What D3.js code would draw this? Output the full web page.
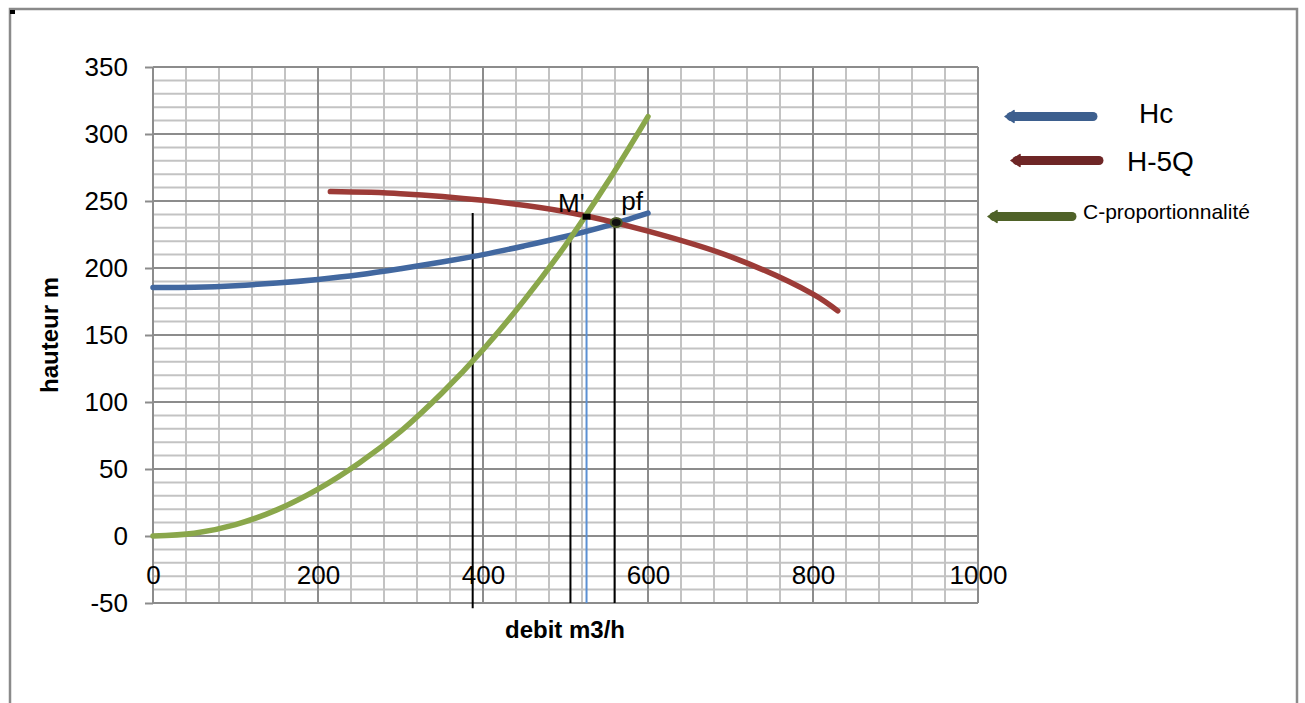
<!DOCTYPE html>
<html>
<head>
<meta charset="utf-8">
<script src="https://cdn.jsdelivr.net/npm/d3@7"></script>
<style>
  html, body { margin: 0; padding: 0; background: #fff; }
  svg { display: block; font-family: "Liberation Sans", Arial, sans-serif; }
</style>
</head>
<body>
<svg id="chart" width="1305" height="703"></svg>
<script>
// ---- data ----
const hcQ = [0, 50, 100, 150, 200, 250, 300, 350, 400, 450, 500, 550, 600];
const hcH = [185.5, 185.7, 186.8, 188.8, 191.5, 195, 199.5, 204.5, 210, 216.5, 223.5, 231.5, 241];

const h5qQ = [215, 300, 400, 500, 600, 700, 800, 830];
const h5qH = [257, 255.5, 250.5, 242, 227.5, 208.5, 180.5, 168];

const cpQ = [0, 50, 100, 150, 200, 250, 300, 350, 400, 450, 500, 550, 600];
const cpH = [0, 2, 8.5, 19.5, 35, 54.5, 78, 106.5, 139, 176, 217, 263, 313];

const xTicks = [0, 200, 400, 600, 800, 1000];
const yTicks = [-50, 0, 50, 100, 150, 200, 250, 300, 350];

const guideQ = [387.5, 506, 525.5, 559.5];
const guideTop = [241, 224.5, 238, 233.5];
const guideBottom = [-54, -50, -50, -50];
const guideKind = ["black", "black", "blue", "black"];

const pointLabels = ["M'", "pf"];
const pointQ = [525.5, 561.5];
const pointH = [238.3, 234];
const labelQ = [491, 567.5];
const labelH = [241.8, 243.3];

const legendLabels = ["Hc", "H-5Q", "C-proportionnalité"];
const xTitle = "debit m3/h";
const yTitle = "hauteur m";

// ---- drawing ----
const svg = d3.select("#chart");
const x = d3.scaleLinear().domain([0, 1000]).range([153, 978]);
const y = d3.scaleLinear().domain([-50, 350]).range([603, 67]);
const fmt = d => String(d);

// outer frame
svg.append("path")
  .attr("d", "M10,706 L10,9 L1297,9 L1297,706")
  .attr("fill", "none").attr("stroke", "#8a8a8a").attr("stroke-width", 2.5);
svg.append("rect").attr("x", 10).attr("y", 10).attr("width", 5).attr("height", 4).attr("fill", "#000");

// grid
const g = svg.append("g");
const minorX = d3.range(0, 1001, 40);
const minorY = d3.range(-50, 351, 10);
g.selectAll(".mx").data(minorX).join("line")
  .attr("x1", d => x(d)).attr("x2", d => x(d)).attr("y1", y(350)).attr("y2", y(-50))
  .attr("stroke", "#c3c3c3").attr("stroke-width", 2);
g.selectAll(".my").data(minorY).join("line")
  .attr("x1", x(0)).attr("x2", x(1000)).attr("y1", d => y(d)).attr("y2", d => y(d))
  .attr("stroke", "#c3c3c3").attr("stroke-width", 2);
g.selectAll(".Mx").data(xTicks).join("line")
  .attr("x1", d => x(d)).attr("x2", d => x(d)).attr("y1", y(350)).attr("y2", y(-50))
  .attr("stroke", "#8c8c8c").attr("stroke-width", 2);
g.selectAll(".My").data(yTicks).join("line")
  .attr("x1", x(0)).attr("x2", x(1000)).attr("y1", d => y(d)).attr("y2", d => y(d))
  .attr("stroke", "#8c8c8c").attr("stroke-width", 2);

// y axis
const yAxis = d3.axisLeft(y).tickValues(yTicks).tickFormat(fmt).tickSize(8).tickPadding(17);
const ya = svg.append("g").attr("transform", `translate(${x(0)},0)`).call(yAxis);
ya.select(".domain").remove();
ya.selectAll(".tick line").attr("stroke", "#8c8c8c").attr("stroke-width", 2);
ya.selectAll(".tick text").attr("font-size", 26).attr("fill", "#000")
  .attr("font-family", "Liberation Sans, Arial, sans-serif");

// x axis labels
const xAxis = d3.axisBottom(x).tickValues(xTicks).tickFormat(fmt).tickSize(0).tickPadding(30);
const xa = svg.append("g").attr("transform", `translate(0,${y(0)})`).call(xAxis);
xa.select(".domain").remove();
xa.selectAll(".tick text").attr("font-size", 26).attr("fill", "#000")
  .attr("font-family", "Liberation Sans, Arial, sans-serif");

// axis titles
svg.append("text").attr("x", 565).attr("y", 638).attr("text-anchor", "middle")
  .attr("font-size", 24).attr("font-weight", "bold").text(xTitle);
svg.append("text").attr("transform", "translate(58,335) rotate(-90)").attr("text-anchor", "middle")
  .attr("font-size", 24).attr("font-weight", "bold").text(yTitle);

// series
const line = d3.line().x(d => x(d[0])).y(d => y(d[1])).curve(d3.curveCatmullRom.alpha(0.5));
const series = [
  { q: hcQ, h: hcH, color: "#4268a0" },
  { q: h5qQ, h: h5qH, color: "#9c3b37" },
  { q: cpQ, h: cpH, color: "#8aa74b" }
];

// guide lines (drawn under curves)
guideQ.forEach((q, i) => {
  svg.append("line")
    .attr("x1", x(q)).attr("x2", x(q)).attr("y1", y(guideTop[i])).attr("y2", y(guideBottom[i]))
    .attr("stroke", guideKind[i] === "blue" ? "#5a8fd3" : "#000")
    .attr("stroke-width", 2);
});

series.forEach(s => {
  svg.append("path")
    .attr("d", line(s.q.map((q, i) => [q, s.h[i]])))
    .attr("fill", "none").attr("stroke", s.color).attr("stroke-width", 5.5)
    .attr("stroke-linecap", "round").attr("stroke-linejoin", "round");
});

// points
svg.append("rect").attr("x", x(pointQ[0]) - 4).attr("y", y(pointH[0]) - 3).attr("width", 8).attr("height", 6).attr("fill", "#000");
svg.append("ellipse").attr("cx", x(pointQ[1])).attr("cy", y(pointH[1])).attr("rx", 5.5).attr("ry", 4.5)
  .attr("fill", "#111").attr("stroke", "#4a5a26").attr("stroke-width", 2);

pointLabels.forEach((t, i) => {
  svg.append("text").attr("x", x(labelQ[i])).attr("y", y(labelH[i]))
    .attr("font-size", 26).attr("fill", "#000").text(t);
});

// legend
const legendColors = ["#3d5f8e", "#6e2626", "#4f6228"];
const legendLine = [[1005, 1093, 116.5], [1011, 1099, 160.5], [988, 1072, 216.5]];
const legendText = [[1139, 123, 28], [1127, 171, 28], [1083, 219, 21]];
legendLabels.forEach((t, i) => {
  const [x1, x2, ly] = legendLine[i];
  const c = legendColors[i];
  svg.append("line").attr("x1", x1 + 6).attr("x2", x2).attr("y1", ly).attr("y2", ly)
    .attr("stroke", c).attr("stroke-width", 9).attr("stroke-linecap", "round");
  svg.append("path")
    .attr("d", `M${x1},${ly} L${x1 + 9},${ly - 6} L${x1 + 9},${ly + 6} Z`)
    .attr("fill", c).attr("stroke", c).attr("stroke-width", 1.5).attr("stroke-linejoin", "round");
  svg.append("text").attr("x", legendText[i][0]).attr("y", legendText[i][1])
    .attr("font-size", legendText[i][2]).attr("fill", "#000").text(t);
});
</script>
</body>
</html>
